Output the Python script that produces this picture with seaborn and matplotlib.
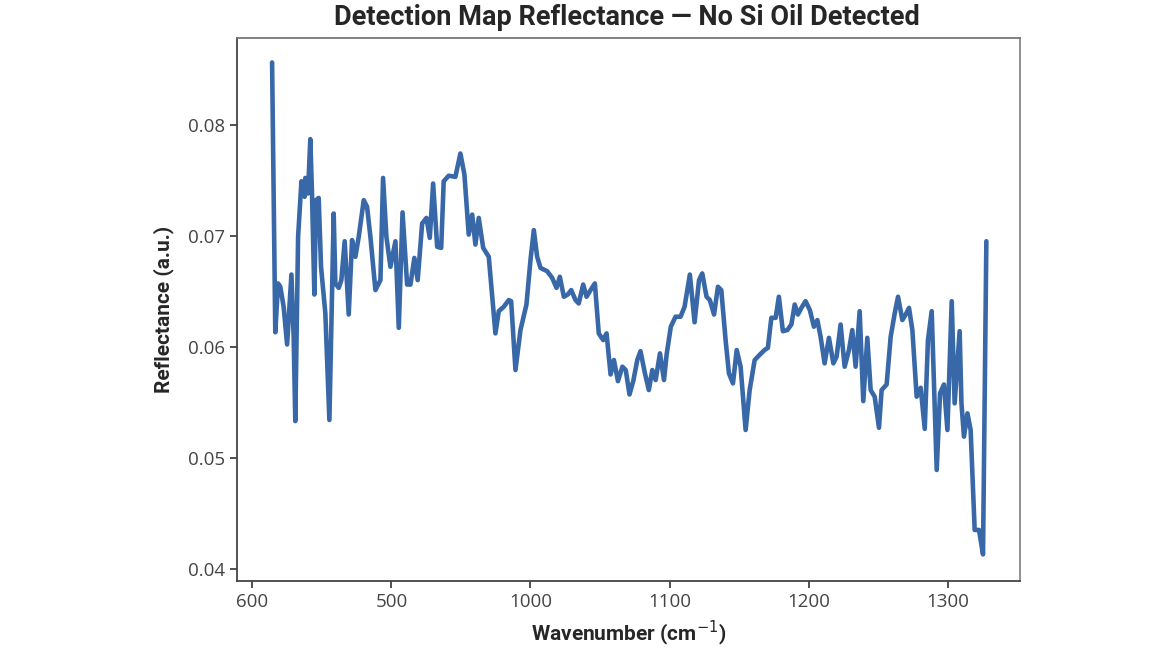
import matplotlib
matplotlib.use("Agg")
import matplotlib.pyplot as plt
import seaborn as sns
import pandas as pd

# valores (wavenumber x reflectance)
wavenumber = [
    814.2, 816.5, 818.5, 820.1, 822.5, 825.0, 828.1, 829.7, 830.9, 832.9,
    835.3, 837.6, 838.1, 840.0, 841.7, 842.9, 844.6, 845.8, 847.7, 849.4,
    852.5, 855.4, 858.5, 859.7, 862.1, 864.0, 866.4, 869.3, 871.7, 874.1,
    876.5, 880.1, 882.5, 884.9, 888.5, 892.1, 894.0, 896.4, 899.3, 902.9,
    905.3, 908.0, 911.3, 913.7, 916.5, 918.9, 922.1, 925.2, 927.6, 930.0,
    932.9, 935.8, 937.6, 941.2, 946.0, 949.6, 952.5, 955.6, 958.1, 960.4,
    962.8, 966.0, 970.0, 974.8, 977.2, 980.8, 984.4, 986.1, 989.2, 992.8,
    997.1, 1000.0, 1002.4, 1004.8, 1007.2, 1012.0, 1015.6, 1018.7, 1021.1, 1024.0,
    1026.8, 1029.3, 1032.4, 1034.7, 1037.9, 1040.3, 1043.2, 1046.3, 1049.1, 1052.3,
    1054.7, 1057.6, 1060.0, 1062.9, 1066.1, 1068.5, 1071.2, 1073.9, 1076.8, 1079.1,
    1082.3, 1085.1, 1087.6, 1090.0, 1093.1, 1096.0, 1097.9, 1100.9, 1104.3, 1107.9,
    1110.8, 1114.6, 1118.0, 1121.2, 1123.5, 1126.6, 1129.0, 1132.0, 1134.8, 1137.2,
    1140.3, 1142.7, 1145.6, 1148.3, 1151.1, 1154.7, 1157.6, 1161.2, 1165.0, 1168.3,
    1170.7, 1173.2, 1176.3, 1178.6, 1181.5, 1184.7, 1187.6, 1190.0, 1192.3, 1194.8,
    1197.8, 1200.9, 1203.8, 1206.3, 1208.6, 1211.5, 1214.6, 1217.8, 1220.1, 1223.0,
    1225.9, 1229.0, 1231.4, 1233.8, 1236.7, 1239.3, 1242.2, 1244.6, 1247.5, 1250.6,
    1252.5, 1256.1, 1259.0, 1261.9, 1264.3, 1267.4, 1269.8, 1272.2, 1274.6, 1277.7,
    1280.6, 1283.5, 1285.8, 1288.5, 1292.1, 1294.5, 1297.3, 1299.8, 1302.9, 1305.0,
    1307.0, 1308.6, 1309.9, 1311.7, 1314.2, 1316.5, 1319.4, 1322.5, 1325.4, 1327.8,
]
reflectance = [
    0.0856, 0.0613, 0.0657, 0.0654, 0.0636, 0.0602, 0.0665, 0.0609, 0.0533, 0.0699,
    0.0749, 0.0735, 0.0752, 0.0738, 0.0787, 0.0738, 0.0647, 0.0732, 0.0734, 0.0672,
    0.0630, 0.0534, 0.0720, 0.0657, 0.0653, 0.0660, 0.0695, 0.0629, 0.0696, 0.0681,
    0.0699, 0.0732, 0.0726, 0.0699, 0.0651, 0.0660, 0.0752, 0.0699, 0.0672, 0.0695,
    0.0617, 0.0721, 0.0656, 0.0656, 0.0680, 0.0660, 0.0711, 0.0716, 0.0698, 0.0747,
    0.0690, 0.0689, 0.0749, 0.0754, 0.0753, 0.0774, 0.0755, 0.0701, 0.0719, 0.0692,
    0.0716, 0.0689, 0.0681, 0.0612, 0.0632, 0.0636, 0.0642, 0.0641, 0.0579, 0.0615,
    0.0638, 0.0678, 0.0705, 0.0681, 0.0671, 0.0668, 0.0662, 0.0653, 0.0663, 0.0645,
    0.0647, 0.0651, 0.0642, 0.0639, 0.0656, 0.0645, 0.0651, 0.0657, 0.0612, 0.0606,
    0.0612, 0.0575, 0.0588, 0.0569, 0.0582, 0.0579, 0.0557, 0.0569, 0.0588, 0.0596,
    0.0576, 0.0561, 0.0579, 0.0570, 0.0594, 0.0570, 0.0593, 0.0618, 0.0627, 0.0627,
    0.0636, 0.0665, 0.0622, 0.0660, 0.0666, 0.0645, 0.0642, 0.0629, 0.0654, 0.0651,
    0.0606, 0.0576, 0.0567, 0.0597, 0.0582, 0.0525, 0.0561, 0.0588, 0.0593, 0.0597,
    0.0599, 0.0626, 0.0626, 0.0645, 0.0614, 0.0615, 0.0620, 0.0638, 0.0629, 0.0635,
    0.0641, 0.0633, 0.0618, 0.0624, 0.0609, 0.0585, 0.0608, 0.0585, 0.0591, 0.0620,
    0.0582, 0.0597, 0.0615, 0.0582, 0.0632, 0.0551, 0.0608, 0.0561, 0.0555, 0.0527,
    0.0561, 0.0566, 0.0609, 0.0630, 0.0645, 0.0624, 0.0629, 0.0635, 0.0615, 0.0555,
    0.0563, 0.0526, 0.0606, 0.0632, 0.0489, 0.0558, 0.0566, 0.0525, 0.0641, 0.0549,
    0.0585, 0.0614, 0.0549, 0.0519, 0.0540, 0.0525, 0.0435, 0.0435, 0.0413, 0.0695,
]
xtick_pos = [800, 900, 1000, 1100, 1200, 1300]
xtick_labels = ['600', '500', '1000', '1100', '1200', '1300']
ytick_pos = [0.04, 0.05, 0.06, 0.07, 0.08]

df = pd.DataFrame({'Wavenumber': wavenumber, 'Reflectance': reflectance})

sns.set_style("ticks")
plt.rcParams['font.family'] = ['Open Sans', 'DejaVu Sans']

fig = plt.figure(figsize=(11.7, 6.58), dpi=100)
ax = fig.add_axes([0.2026, 0.117, 0.6692, 0.8252])
sns.lineplot(data=df, x='Wavenumber', y='Reflectance', sort=False,
             color='#3868a8', linewidth=3.3, ax=ax)
for ln in ax.lines:
    ln.set_solid_joinstyle('round')
    ln.set_solid_capstyle('round')

ax.set_xlim(789, 1352)
ax.set_ylim(0.0389, 0.0878)
ax.set_xticks(xtick_pos)
ax.set_xticklabels(xtick_labels)
ax.set_yticks(ytick_pos)
ax.set_yticklabels(['0.04', '0.05', '0.06', '0.07', '0.08'])
ax.tick_params(axis='both', labelsize=13.5, labelcolor='#444444', colors='#333333',
               length=5, width=1.2, direction='out')

for s in ax.spines.values():
    s.set_color('#444444')
    s.set_linewidth(1.3)
ax.spines['right'].set_color('#888888')
ax.spines['top'].set_color('#777777')

ax.set_xlabel('Wavenumber (cm$^{-1}$)', fontsize=15, fontweight='bold',
              family='Roboto', labelpad=6)
ax.set_ylabel('Reflectance (a.u.)', fontsize=15, fontweight='bold',
              family='Roboto', labelpad=10)
fig.text(0.536, 0.974, 'Detection Map Reflectance \u2014 No Si Oil Detected',
         ha='center', va='center', fontsize=19.5, fontweight='bold', family='Roboto')

fig.savefig('out.png', dpi=100)
